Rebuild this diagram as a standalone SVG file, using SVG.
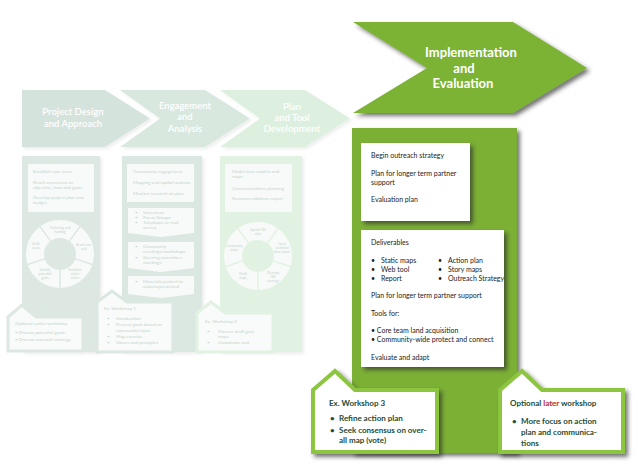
<svg xmlns="http://www.w3.org/2000/svg" width="640" height="474" viewBox="0 0 640 474">
<defs>
<filter id="sh" x="-10%" y="-10%" width="130%" height="130%"><feDropShadow dx="3" dy="3" stdDeviation="2" flood-color="#2b2b2b" flood-opacity="0.65"/></filter>
<filter id="shl" x="-10%" y="-10%" width="130%" height="130%"><feDropShadow dx="2" dy="2" stdDeviation="1.5" flood-color="#000" flood-opacity="0.07"/></filter>
</defs>
<style>
text{font-family:"Lato","Liberation Sans",sans-serif;}
.chf{fill:#fff;font-size:9.5px;font-weight:600;text-anchor:middle;}
.ft{fill:#c6d4cd;font-size:4.6px;}
.fw{fill:#c6d4cd;font-size:3.3px;text-anchor:middle;}
.fb{fill:#f7faf8;}
.wt{fill:#222;font-size:7px;}
.ws{fill:#234d35;font-size:8px;font-weight:700;}
.wsbox{fill:#fff;stroke:#8cc640;stroke-width:4;stroke-linejoin:miter;}
.fws{fill:#f8fbf9;stroke-width:3;}
</style>
<rect width="640" height="474" fill="#fff"/>

<!-- faded stage 1 -->
<g id="stage1">
<polygon points="22,90 105,90 150,118.5 105,147 22,147" fill="#d5e3dd" filter="url(#shl)"/>
<text class="chf" x="73" y="115">Project Design</text>
<text class="chf" x="73" y="127">and Approach</text>
<rect x="22" y="156" width="78" height="196" fill="#dde8e3" filter="url(#shl)"/>
<rect class="fb" x="28" y="164" width="66" height="48"/>
<text class="ft" x="33" y="173">Establish core team</text>
<text class="ft" x="33" y="184">Reach consensus on</text>
<text class="ft" x="33" y="189">objective, how and goals</text>
<text class="ft" x="33" y="199">Develop project plan and</text>
<text class="ft" x="33" y="204">budget</text>
<circle cx="60" cy="254" r="25" fill="none" stroke="#f7faf8" stroke-width="18"/>
<g stroke="#dde8e3" stroke-width="1.5">
<line x1="75.2" y1="258.9" x2="92.3" y2="264.5"/>
<line x1="60" y1="270" x2="60" y2="288"/>
<line x1="44.8" y1="258.9" x2="27.7" y2="264.5"/>
<line x1="50.6" y1="241.1" x2="40" y2="226.5"/>
<line x1="69.4" y1="241.1" x2="80" y2="226.5"/>
</g>
<text class="fw" x="60" y="229">Gathering and</text><text class="fw" x="60" y="233">funding</text>
<text class="fw" x="84" y="246">Reach con-</text><text class="fw" x="84" y="250">sult</text>
<text class="fw" x="75" y="271">Establish</text><text class="fw" x="75" y="275">vision</text><text class="fw" x="75" y="279">values</text>
<text class="fw" x="45" y="271">Identify</text><text class="fw" x="45" y="275">potential</text><text class="fw" x="45" y="279">goals</text>
<text class="fw" x="36" y="245">Build</text><text class="fw" x="36" y="249">team</text>
</g>

<!-- faded stage 2 -->
<g id="stage2">
<polygon points="120,90 205,90 250,118.5 205,147 120,147 160,118.5" fill="#d8e8df" filter="url(#shl)"/>
<text class="chf" x="185" y="109">Engagement</text>
<text class="chf" x="185" y="120">and</text>
<text class="chf" x="185" y="132">Analysis</text>
<rect x="122" y="156" width="80" height="196" fill="#dbe8e1" filter="url(#shl)"/>
<rect class="fb" x="127" y="164" width="67" height="38"/>
<text class="ft" x="133" y="173">Community engagement</text>
<text class="ft" x="133" y="184">Mapping and spatial analysis</text>
<text class="ft" x="133" y="195">Monitor research on plan</text>
<path class="fb" d="M128,208 H194 V233 L161,237 L128,233 Z"/>
<g class="ft"><text x="135" y="214">•</text><text x="143" y="214">Interviews</text>
<text x="135" y="219">•</text><text x="143" y="219">Focus Groups</text>
<text x="135" y="224">•</text><text x="143" y="224">Telephone or mail</text>
<text x="143" y="229">survey</text></g>
<path class="fb" d="M128,242 H194 V268 L161,272 L128,268 Z"/>
<g class="ft"><text x="135" y="248">•</text><text x="143" y="248">Community</text>
<text x="143" y="253">meetings/workshops</text>
<text x="135" y="259">•</text><text x="143" y="259">Steering committee</text>
<text x="143" y="264">meetings</text></g>
<path class="fb" d="M128,276 H194 V294 L161,298 L128,294 Z"/>
<g class="ft"><text x="135" y="283">•</text><text x="143" y="283">Materials pushed to</text>
<text x="143" y="288">underrepresented</text></g>
</g>

<!-- faded stage 3 -->
<g id="stage3">
<polygon points="220,90 305,90 350,118.5 305,147 220,147 260,118.5" fill="#ddefdf" filter="url(#shl)"/>
<text class="chf" x="292" y="110">Plan</text>
<text class="chf" x="292" y="121">and Tool</text>
<text class="chf" x="292" y="132">Development</text>
<rect x="220" y="156" width="82" height="196" fill="#e2f2e2" filter="url(#shl)"/>
<rect class="fb" x="225" y="164" width="67" height="48"/>
<text class="ft" x="232" y="173">Model data models and</text>
<text class="ft" x="232" y="178">maps</text>
<text class="ft" x="232" y="190">Communications planning</text>
<text class="ft" x="232" y="200">Recommendations report</text>
<circle cx="258" cy="256" r="25" fill="none" stroke="#f7faf8" stroke-width="18"/>
<g stroke="#e2f2e2" stroke-width="1.5">
<line x1="273.2" y1="260.9" x2="290.3" y2="266.5"/>
<line x1="258" y1="272" x2="258" y2="290"/>
<line x1="242.8" y1="260.9" x2="225.7" y2="266.5"/>
<line x1="248.6" y1="243.1" x2="238" y2="228.5"/>
<line x1="267.4" y1="243.1" x2="278" y2="228.5"/>
</g>
<text class="fw" x="258" y="231">Spatial GIS</text><text class="fw" x="258" y="235">data</text>
<text class="fw" x="282" y="245">Local</text><text class="fw" x="282" y="249">technical</text><text class="fw" x="282" y="253">data inputs</text>
<text class="fw" x="273" y="274">Develop</text><text class="fw" x="273" y="278">GIS</text><text class="fw" x="273" y="282">strategy</text>
<text class="fw" x="243" y="275">Draft</text><text class="fw" x="243" y="279">maps</text>
<text class="fw" x="234" y="247">Community</text><text class="fw" x="234" y="251">input</text>
</g>

<!-- faded workshops -->
<g id="ws-earlier">
<path class="fws" stroke="#dde8e3" d="M8,317 L22,305 L36,317 H83 V351 H8 Z"/>
<text class="ft" x="15" y="325">Optional earlier workshop</text>
<text class="ft" x="15" y="334">• Discuss potential goals</text>
<text class="ft" x="15" y="341">• Discuss outreach strategy</text>
</g>
<g id="ws1">
<path class="fws" stroke="#dbe8e1" d="M97,302 L112,291 L127,302 H173 V352 H97 Z"/>
<text class="ft" x="104" y="310">Ex. Workshop 1</text>
<g class="ft"><text x="107" y="320">•</text><text x="116" y="320">Introduction</text>
<text x="107" y="326">•</text><text x="116" y="326">Present goals based on</text>
<text x="116" y="332">community input</text>
<text x="107" y="338">•</text><text x="116" y="338">Map exercise</text>
<text x="107" y="344">•</text><text x="116" y="344">Values and principles</text></g>
</g>
<g id="ws2">
<path class="fws" stroke="#e2f2e2" d="M197,313 L211,302 L225,313 H273 V352 H197 Z"/>
<text class="ft" x="205" y="323">Ex. Workshop 2</text>
<g class="ft"><text x="207" y="333">•</text><text x="218" y="333">Discuss draft goal</text>
<text x="218" y="338">maps</text>
<text x="207" y="344">•</text><text x="218" y="344">Coordinate and</text></g>
</g>

<!-- active stage -->
<g id="implementation">
<polygon points="353,22 513,22 587,68 513,113 353,113 427,68" fill="#7db336" filter="url(#sh)"/>
<text x="471" y="57" fill="#fff" font-size="13px" font-weight="700" text-anchor="middle">Implementation</text>
<text x="464" y="73" fill="#fff" font-size="13px" font-weight="700" text-anchor="middle">and</text>
<text x="463" y="88" fill="#fff" font-size="13px" font-weight="700" text-anchor="middle">Evaluation</text>
<rect x="352" y="128" width="165" height="325" fill="#7bb035" filter="url(#sh)"/>
</g>
<g id="box-outreach">
<rect x="361" y="143" width="109" height="78" fill="#fff" filter="url(#sh)"/>
<text class="wt" x="371" y="158">Begin outreach strategy</text>
<text class="wt" x="371" y="176">Plan for longer term partner</text>
<text class="wt" x="371" y="185">support</text>
<text class="wt" x="371" y="202">Evaluation plan</text>
</g>
<g id="box-deliverables">
<rect x="361" y="230" width="143" height="137" fill="#fff" filter="url(#sh)"/>
<text class="wt" x="371" y="245">Deliverables</text>
<text class="wt" x="371" y="263">•</text><text class="wt" x="381" y="263">Static maps</text>
<text class="wt" x="371" y="272">•</text><text class="wt" x="381" y="272">Web tool</text>
<text class="wt" x="371" y="281">•</text><text class="wt" x="381" y="281">Report</text>
<text class="wt" x="438" y="263">•</text><text class="wt" x="448" y="263">Action plan</text>
<text class="wt" x="438" y="272">•</text><text class="wt" x="448" y="272">Story maps</text>
<text class="wt" x="438" y="281">•</text><text class="wt" x="448" y="281">Outreach Strategy</text>
<text class="wt" x="371" y="298">Plan for longer term partner support</text>
<text class="wt" x="371" y="316">Tools for:</text>
<text class="wt" x="371" y="333">• Core team land acquisition</text>
<text class="wt" x="371" y="342">• Community-wide protect and connect</text>
<text class="wt" x="371" y="360">Evaluate and adapt</text>
</g>
<g id="ws3">
<path class="wsbox" d="M313,390 L335,371 L355,390 H437 V452 H313 Z" filter="url(#sh)"/>
<text class="ws" x="329" y="406">Ex. Workshop 3</text>
<text class="ws" x="330" y="421">•</text><text class="ws" x="339" y="421">Refine action plan</text>
<text class="ws" x="330" y="433">•</text><text class="ws" x="339" y="433">Seek consensus on over-</text>
<text class="ws" x="339" y="443">all map (vote)</text>
</g>
<g id="ws-later">
<path class="wsbox" d="M500,390 L522,371 L542,390 H623 V452 H500 Z" filter="url(#sh)"/>
<text class="ws" x="510" y="406">Optional <tspan fill="#c1272d">later</tspan> workshop</text>
<text class="ws" x="512" y="424">•</text><text class="ws" x="521" y="424">More focus on action</text>
<text class="ws" x="521" y="435">plan and communica-</text>
<text class="ws" x="521" y="446">tions</text>
</g>
</svg>
